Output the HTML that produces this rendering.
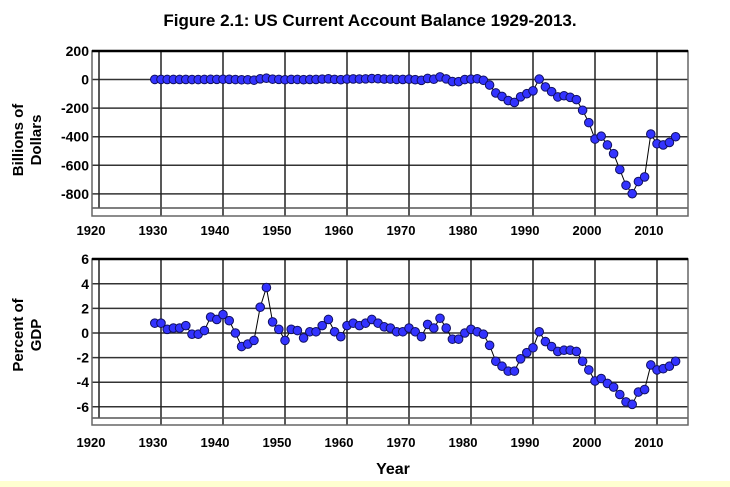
<!DOCTYPE html>
<html><head><meta charset="utf-8"><style>
body{margin:0;background:#fff;}
svg{display:block;font-family:"Liberation Sans",Arial,sans-serif;font-weight:bold;}
</style></head><body>
<svg id="c" width="730" height="487" viewBox="0 0 730 487">
<rect x="0" y="481" width="730" height="6" fill="#ffffd0"/>
<text x="370" y="26" text-anchor="middle" font-size="17">Figure 2.1: US Current Account Balance 1929-2013.</text>
<g transform="translate(27,140) rotate(-90)"><text x="0" y="-4" text-anchor="middle" font-size="15">Billions of</text><text x="0" y="14" text-anchor="middle" font-size="15">Dollars</text></g>
<g transform="translate(27,335) rotate(-90)"><text x="0" y="-4" text-anchor="middle" font-size="15">Percent of</text><text x="0" y="14" text-anchor="middle" font-size="15">GDP</text></g>
<text x="393" y="474" text-anchor="middle" font-size="16">Year</text>
</svg>
<script>
const years=[];for(let y=1929;y<=2013;y++)years.push(y);
const xTicks=[1920,1930,1940,1950,1960,1970,1980,1990,2000,2010];
const topTicks=[200,0,-200,-400,-600,-800];
const botTicks=[6,4,2,0,-2,-4,-6];
const billions=[0.6,0.7,0.3,0.2,0.2,0.4,-0.1,-0.1,0.2,1.1,0.9,1.5,1.4,-0.2,-2.0,-1.8,-4.6,4.9,9.0,2.4,0.9,-1.8,0.9,0.6,-1.3,0.2,0.4,2.7,4.8,0.8,-1.3,2.8,3.8,3.4,4.4,6.8,5.4,3.0,2.6,0.6,0.4,2.3,-1.4,-5.8,7.1,2.0,18.1,4.3,-14.3,-15.1,-0.3,2.3,5.0,-5.5,-38.7,-94.3,-118.2,-147.2,-160.7,-121.2,-99.5,-79.0,2.9,-51.6,-84.8,-121.6,-113.6,-124.8,-140.7,-215.1,-301.6,-416.3,-396.7,-457.8,-518.7,-629.3,-739.8,-798.5,-713.4,-681.3,-381.6,-449.5,-457.7,-440.4,-400.3];
const percent=[0.8,0.8,0.3,0.4,0.4,0.6,-0.1,-0.1,0.2,1.3,1.1,1.5,1.0,0.0,-1.1,-0.9,-0.6,2.1,3.7,0.9,0.3,-0.6,0.3,0.2,-0.4,0.1,0.1,0.6,1.1,0.1,-0.3,0.6,0.8,0.6,0.8,1.1,0.8,0.5,0.4,0.1,0.1,0.4,0.1,-0.3,0.7,0.4,1.2,0.4,-0.5,-0.5,0.0,0.3,0.1,-0.1,-1.0,-2.3,-2.7,-3.1,-3.1,-2.1,-1.6,-1.2,0.1,-0.7,-1.1,-1.5,-1.4,-1.4,-1.5,-2.3,-3.0,-3.9,-3.7,-4.1,-4.4,-5.0,-5.6,-5.8,-4.8,-4.6,-2.6,-3.0,-2.9,-2.7,-2.3];
const svg=document.getElementById('c');const NS='http://www.w3.org/2000/svg';
function mk(t,a,p){const e=document.createElementNS(NS,t);for(const k in a)e.setAttribute(k,a[k]);(p||svg).appendChild(e);return e;}
const xs=y=>99+(y-1920)*6.2;
function panel(name,top,bottom,inner,ymax,ymin,vals,ticks,labY,y0px,ppu){
  const ys=v=>y0px-v*ppu;
  const g=mk('g',{});
  
  
  ticks.forEach(t=>{const l=mk('line',{x1:92,x2:688,y1:ys(t),y2:ys(t),stroke:'#333','stroke-width':1.5},g);
    
    const tx=mk('text',{x:89,y:ys(t)+5,'text-anchor':'end','font-size':14},g);tx.textContent=t;
    });
  xTicks.forEach(t=>{const l=mk('line',{x1:xs(t),x2:xs(t),y1:top,y2:t===1920?inner:bottom,stroke:'#222','stroke-width':1.5},g);
    
    const tx=mk('text',{x:xs(t)-8,y:labY,'text-anchor':'middle','font-size':13},g);tx.textContent=t;
    });
  const il=mk('line',{x1:92,x2:688,y1:inner,y2:inner,stroke:'#555','stroke-width':1.5},g);
  
  const fr=mk('rect',{x:92,y:top,width:596,height:bottom-top,fill:'none',stroke:'#666','stroke-width':1.5},g);
  
  const tl=mk('line',{x1:92,x2:688,y1:top,y2:top,stroke:'#000','stroke-width':2.5},g);
  
  const pts=vals.map((v,i)=>xs(years[i])+','+ys(v)).join(' ');
  const pl=mk('polyline',{points:pts,fill:'none',stroke:'#000','stroke-width':1},g);
  
  vals.forEach((v,i)=>{const c=mk('circle',{cx:xs(years[i]),cy:ys(v),r:4.3,fill:'#3333ff',stroke:'#101060','stroke-width':1},g);
    });
}
panel('billions',51,216,208,200,-900,billions,topTicks,235,79.5,28.6/200);
panel('percent',259,425,418,6,-7,percent,botTicks,447,333,12.3);
</script>
</body></html>
